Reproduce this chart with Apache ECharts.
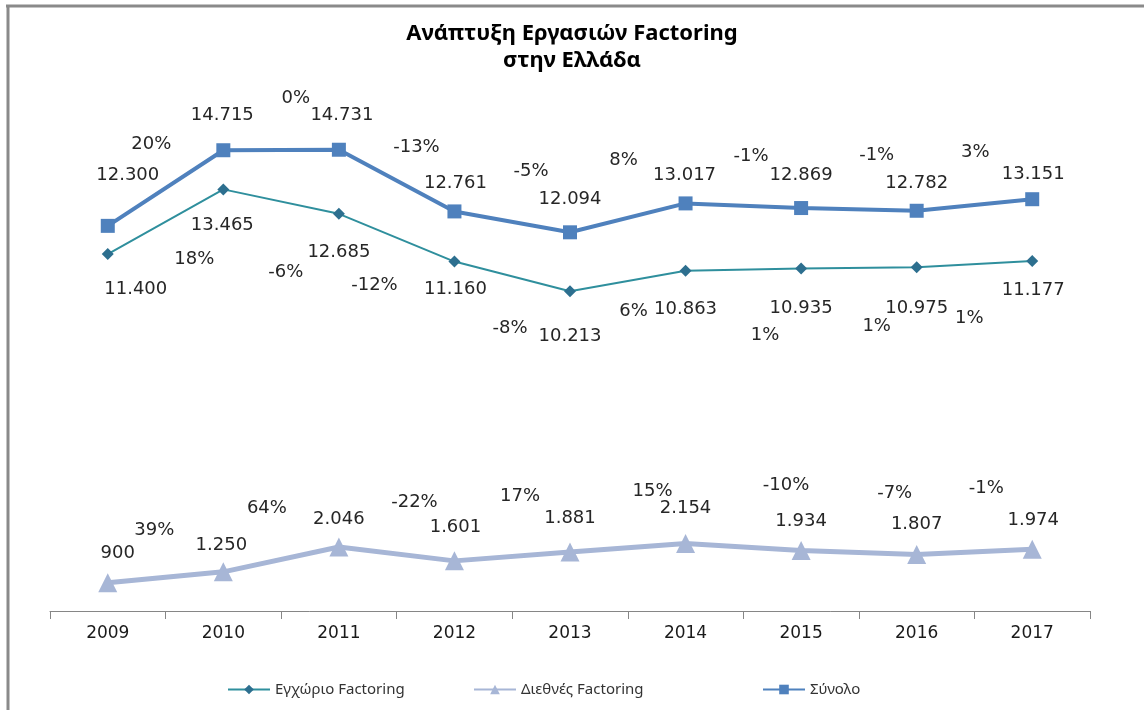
<!DOCTYPE html>
<html>
<head>
<meta charset="utf-8">
<script src="https://cdn.jsdelivr.net/npm/echarts@6/dist/echarts.min.js"></script>
<style>html,body{margin:0;background:#fff}#chart{width:1144px;height:710px}</style>
</head>
<body>
<div id="chart"></div>
<script>
var myChart = echarts.init(document.getElementById('chart'));

// data
var years = ['2009', '2010', '2011', '2012', '2013', '2014', '2015', '2016', '2017'];
var domestic      = [11400, 13465, 12685, 11160, 10213, 10863, 10935, 10975, 11177];
var international = [900, 1250, 2046, 1601, 1881, 2154, 1934, 1807, 1974];
var total         = [12300, 14715, 14731, 12761, 12094, 13017, 12869, 12782, 13151];
// yearly change (%), first year has none
var domesticGrowth      = [null, 18, -6, -12, -8, 6, 1, 1, 1];
var internationalGrowth = [null, 39, 64, -22, 17, 15, -10, -7, -1];
var totalGrowth         = [null, 20, 0, -13, -5, 8, -1, -1, 3];
var seriesNames = ['Εγχώριο Factoring', 'Διεθνές Factoring', 'Σύνολο'];

// label offsets (px) - layout only
var totalOff = [[20,-51],[-1,-35],[3,-34],[1,-28],[0,-33],[-1,-28],[0,-33],[0,-27],[1,-25]];
var domOff   = [[28,35],[-1,36],[0,39],[1,28],[0,45],[0,38],[0,40],[0,41],[1,29]];
var intOff   = [[10,-29],[-2,-27],[0,-28],[1,-34],[0,-34],[0,-35],[0,-29],[0,-30],[1,-29]];
var totalGOff = [null,[-72,-6],[-43,-51],[-38,-64],[-39,-61],[-62,-43],[-50,-52],[-40,-55],[-57,-47]];
var domGOff   = [null,[-29,70],[-53,59],[-80,24],[-60,37],[-52,40],[-36,67],[-40,59],[-63,57]];
var intGOff   = [null,[-69,-42],[-72,-39],[-40,-59],[-50,-56],[-33,-52],[-15,-65],[-22,-61],[-46,-61]];
var legendLeft = [222, 468, 757];

var labelFont = {fontFamily: 'DejaVu Sans', fontSize: 18, color: '#262626'};

function fmt(v) {
    if (v < 1000) return String(v);
    return Math.floor(v / 1000) + '.' + String(v % 1000).padStart(3, '0');
}

function valueData(values, offs) {
    return values.map(function (v, i) {
        return {value: v, label: Object.assign({show: true, position: 'inside', offset: offs[i], formatter: fmt(v)}, labelFont)};
    });
}

function growthSeries(name, values, growth, offs) {
    return {
        name: name,
        type: 'line',
        silent: true,
        symbol: 'circle',
        symbolSize: 1,
        itemStyle: {color: 'rgba(0,0,0,0)'},
        lineStyle: {opacity: 0},
        z: 5,
        data: values.map(function (v, i) {
            if (growth[i] === null) return {value: v, label: {show: false}};
            return {value: v, label: Object.assign({show: true, position: 'inside', offset: offs[i], formatter: growth[i] + '%'}, labelFont)};
        })
    };
}

var option = {
    backgroundColor: '#fff',
    animation: false,
    title: {
        text: 'Ανάπτυξη Εργασιών Factoring\nστην Ελλάδα',
        left: 'center',
        top: 15,
        textStyle: {fontFamily: 'Noto Sans', fontSize: 22, fontWeight: 'bold', color: '#000', lineHeight: 27}
    },
    legend: seriesNames.map(function (n, i) {
        return {
            data: [n],
            left: legendLeft[i],
            top: 677,
            itemWidth: 42,
            itemHeight: 12,
            textStyle: {fontFamily: 'Noto Sans', fontSize: 15, color: '#333'}
        };
    }),
    grid: {left: 50, right: 54, top: 110, bottom: 99},
    xAxis: {
        type: 'category',
        data: years,
        boundaryGap: true,
        axisLine: {lineStyle: {color: '#868686', width: 1}},
        axisTick: {show: true, length: 8, lineStyle: {color: '#868686'}},
        axisLabel: {fontFamily: 'DejaVu Sans', fontSize: 17, color: '#1a1a1a', margin: 14}
    },
    yAxis: {
        type: 'value',
        min: 0,
        max: 16000,
        show: false,
        splitLine: {show: false}
    },
    graphic: [
        {type: 'line', shape: {x1: 6, y1: 6, x2: 1144, y2: 6}, style: {stroke: '#8a8a8a', lineWidth: 3}},
        {type: 'line', shape: {x1: 8, y1: 6, x2: 8, y2: 710}, style: {stroke: '#8a8a8a', lineWidth: 3}}
    ],
    series: [
        {
            name: seriesNames[0],
            type: 'line',
            symbol: 'diamond',
            symbolSize: 12,
            lineStyle: {color: '#2f8f9d', width: 2},
            itemStyle: {color: '#2d6f8f'},
            z: 3,
            data: valueData(domestic, domOff)
        },
        {
            name: seriesNames[1],
            type: 'line',
            symbol: 'triangle',
            symbolSize: 19,
            lineStyle: {color: '#a7b6d6', width: 5},
            itemStyle: {color: '#a7b6d6'},
            z: 3,
            data: valueData(international, intOff)
        },
        {
            name: seriesNames[2],
            type: 'line',
            symbol: 'rect',
            symbolSize: 14,
            lineStyle: {color: '#4f81bd', width: 4},
            itemStyle: {color: '#4f81bd'},
            z: 4,
            data: valueData(total, totalOff)
        },
        growthSeries('g1', domestic, domesticGrowth, domGOff),
        growthSeries('g2', international, internationalGrowth, intGOff),
        growthSeries('g3', total, totalGrowth, totalGOff)
    ]
};

myChart.setOption(option);
</script>
</body>
</html>
